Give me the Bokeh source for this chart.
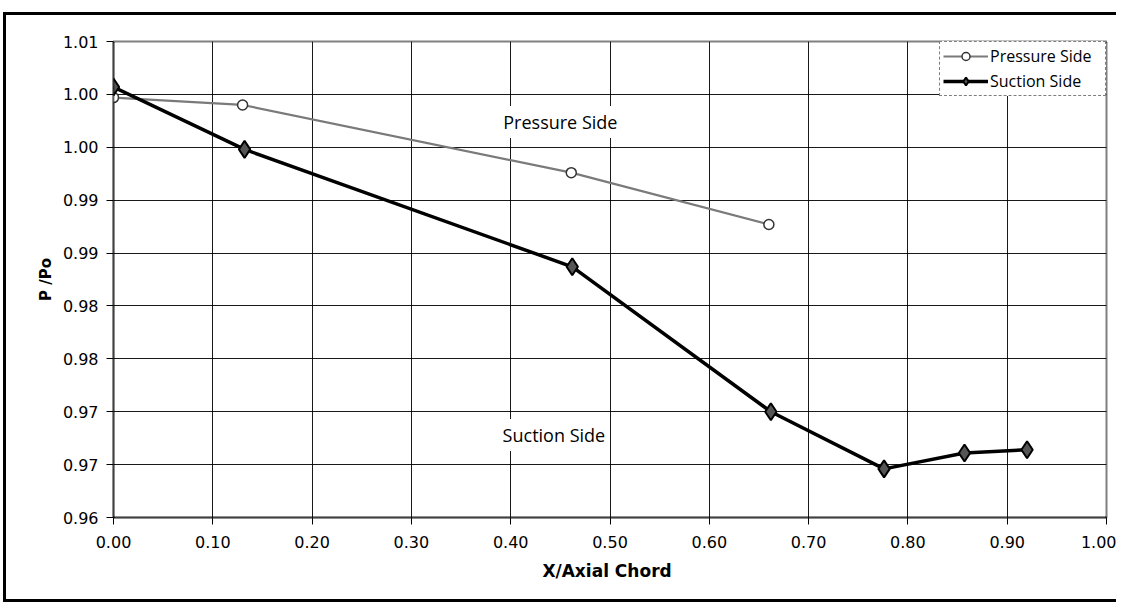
from bokeh.plotting import figure
from bokeh.models import Range1d, FixedTicker, Label
from bokeh.embed import file_html
from bokeh.resources import INLINE

# ---- data ----
x_pressure = [0.0, 0.13, 0.461, 0.66]
p_pressure = [0.9997, 0.9990, 0.9926, 0.9877]

x_suction = [0.0, 0.132, 0.462, 0.662, 0.776, 0.857, 0.920]
p_suction = [1.0007, 0.9948, 0.9837, 0.9700, 0.9646, 0.9661, 0.9664]

x_ticks = [0.0, 0.1, 0.2, 0.3, 0.4, 0.5, 0.6, 0.7, 0.8, 0.9, 1.0]
x_tick_labels = ["0.00", "0.10", "0.20", "0.30", "0.40", "0.50",
                 "0.60", "0.70", "0.80", "0.90", "1.00"]
y_ticks = [0.960, 0.965, 0.970, 0.975, 0.980, 0.985, 0.990, 0.995, 1.000, 1.005]
y_tick_labels = ["0.96", "0.97", "0.97", "0.98", "0.98",
                 "0.99", "0.99", "1.00", "1.00", "1.01"]

series_names = ["Pressure Side", "Suction Side"]
x_title = "X/Axial  Chord"
y_title = "P /Po"

p = figure(width=1116, height=602, output_backend="svg", toolbar_location=None,
           x_range=Range1d(0.0, 1.0), y_range=Range1d(0.96, 1.005),
           min_border_left=113, min_border_right=10, min_border_top=41,
           min_border_bottom=85)

p.border_fill_color = None
p.background_fill_color = "white"
p.styles = {
    "background-color": "white",
    "box-shadow": ("inset 3px 0 0 0 white, inset 0 12px 0 0 white, "
                   "inset 6px 0 0 0 black, inset 0 15px 0 0 black, "
                   "inset 0 -3px 0 0 black"),
}

p.outline_line_color = "black"
p.outline_line_width = 2
p.outline_line_dash = "1 1"

# grid
for g in (p.xgrid, p.ygrid):
    g.grid_line_color = "black"
    g.grid_line_width = 1
    g.grid_line_alpha = 0.9

# axes
p.xaxis.ticker = FixedTicker(ticks=x_ticks)
p.xaxis.major_label_overrides = {t: l for t, l in zip(x_ticks, x_tick_labels)}
p.yaxis.ticker = FixedTicker(ticks=y_ticks)
p.yaxis.major_label_overrides = {t: l for t, l in zip(y_ticks, y_tick_labels)}
p.xgrid.ticker = p.xaxis.ticker
p.ygrid.ticker = p.yaxis.ticker

for ax in (p.xaxis, p.yaxis):
    ax.axis_line_color = "black"
    ax.axis_line_width = 2
    ax.axis_line_dash = "1 1"
    ax.major_tick_line_color = "black"
    ax.major_tick_out = 7
    ax.major_tick_in = 0
    ax.minor_tick_line_color = None
    ax.major_label_text_font = "DejaVu Sans"
    ax.major_label_text_font_size = "16px"
    ax.major_label_text_color = "black"
    ax.axis_label_text_font = "DejaVu Sans"
    ax.axis_label_text_font_style = "bold"
    ax.axis_label_text_color = "black"

p.xaxis.major_label_standoff = 11
p.yaxis.major_label_standoff = 8
p.xaxis.axis_label = x_title
p.xaxis.axis_label_text_font_size = "17px"
p.xaxis.axis_label_standoff = 10
p.yaxis.axis_label = y_title
p.yaxis.axis_label_text_font_size = "15px"
p.yaxis.axis_label_standoff = 5

# series
p.line(x_pressure, p_pressure, line_color="#7a7a7a", line_width=2.2,
       legend_label=series_names[0])
p.scatter(x_pressure, p_pressure, marker="circle", size=10, fill_color="white",
          line_color="#333333", line_width=1.5, legend_label=series_names[0])

p.line(x_suction, p_suction, line_color="black", line_width=3.5,
       legend_label=series_names[1])
p.scatter(x_suction, p_suction, marker="diamond", size=17, fill_color="#555555",
          line_color="black", line_width=2, legend_label=series_names[1])

# in-plot annotations
for txt, lx, ly in ((series_names[0], 0.45, 0.9974), (series_names[1], 0.4435, 0.9678)):
    p.add_layout(Label(x=lx, y=ly, text=txt, text_align="center",
                       text_baseline="middle", text_font="Open Sans",
                       text_font_size="18px", text_color="black",
                       background_fill_color="white", padding=4))

# legend
lg = p.legend[0]
lg.location = "top_right"
lg.margin = 0
lg.padding = 3
lg.spacing = 3
lg.label_height = 20
lg.glyph_height = 20
lg.glyph_width = 45
lg.label_width = 112
lg.label_standoff = 2
lg.label_text_font = "Open Sans"
lg.label_text_font_size = "16px"
lg.label_text_color = "black"
lg.border_line_color = "black"
lg.border_line_dash = "1 1"
lg.border_line_width = 1.5
lg.background_fill_color = "white"
lg.background_fill_alpha = 1.0

open("out.html", "w").write(file_html(p, INLINE))
